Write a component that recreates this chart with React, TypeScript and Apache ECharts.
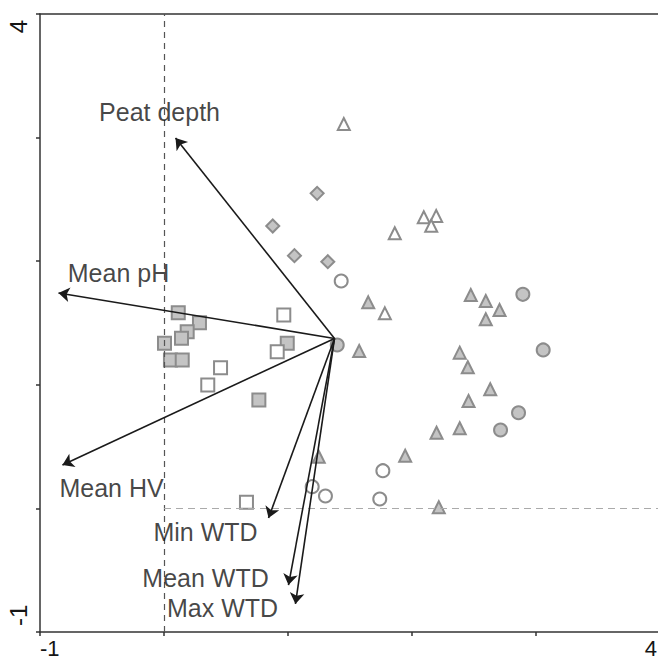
import React, { useEffect, useRef } from "react";
import * as echarts from "echarts";

// ---- data ----
const xTicks = [-1, 0, 1, 2, 3, 4];
const yTicks = [-1, 0, 1, 2, 3, 4];
const shownTickLabels = [-1, 4];

const arrowOrigin: [number, number] = [1.375, 1.375];
const vectorNames = ["Peat depth", "Mean pH", "Mean HV", "Min WTD", "Mean WTD", "Max WTD"];
const vectorEnds: [number, number][] = [
  [0.093, 2.997],
  [-0.851, 1.743],
  [-0.819, 0.351],
  [0.843, -0.078],
  [1.004, -0.62],
  [1.06, -0.773],
];
const vectorLabelPos: [number, number][] = [
  [-0.036, 3.207],
  [-0.367, 1.905],
  [-0.423, 0.165],
  [0.335, -0.191],
  [0.335, -0.563],
  [0.472, -0.806],
];

const filledSquares: [number, number][] = [
  [0.115, 1.583], [0.286, 1.502], [0.187, 1.43], [0.141, 1.376], [0.004, 1.336],
  [0.052, 1.201], [0.147, 1.201], [0.994, 1.336], [0.765, 0.877],
];
const openSquares: [number, number][] = [
  [0.966, 1.565], [0.913, 1.268], [0.456, 1.138], [0.353, 0.998], [0.665, 0.049],
];
const filledDiamonds: [number, number][] = [
  [1.235, 2.549], [0.877, 2.285], [1.052, 2.045], [1.321, 1.996],
];
const openTriangles: [number, number][] = [
  [1.45, 3.11], [2.095, 2.355], [2.195, 2.366], [2.155, 2.287], [1.861, 2.226], [1.781, 1.578],
];
const openCircles: [number, number][] = [
  [1.429, 1.84], [1.765, 0.305], [1.195, 0.176], [1.302, 0.1], [1.74, 0.076],
];
const filledCircles: [number, number][] = [
  [1.397, 1.322], [2.894, 1.732], [3.058, 1.282], [2.859, 0.774], [2.714, 0.634],
];
const filledTriangles: [number, number][] = [
  [1.647, 1.667], [1.574, 1.273], [2.474, 1.727], [2.595, 1.678], [2.706, 1.605],
  [2.595, 1.53], [2.385, 1.26], [2.45, 1.142], [2.631, 0.964], [2.456, 0.869],
  [2.385, 0.648], [2.198, 0.612], [1.248, 0.418], [1.945, 0.426], [2.216, 0.009],
];

const FONT = "'Liberation Sans', Arial, sans-serif";
const STROKE = "#8c8c8c";
const FILL = "#c4c4c4";
const TEXT = "#151515";

export default function App() {
  const ref = useRef<HTMLDivElement>(null);
  useEffect(() => {
    if (!ref.current) return;
    const chart = echarts.init(ref.current, undefined, { renderer: "svg" });

    const pointSeries = (data: [number, number][], symbol: string, filled: boolean, size: number) => ({
      type: "scatter",
      data,
      symbol,
      symbolSize: size,
      itemStyle: { color: filled ? FILL : "#ffffff", borderColor: STROKE, borderWidth: 2, opacity: 1 },
      z: 3,
    });

    const fmt = (v: number) => (shownTickLabels.includes(v) ? String(v) : "");

    chart.setOption({
      animation: false,
      backgroundColor: "#ffffff",
      grid: { left: 40, top: 14, width: 620, height: 618, outerBoundsMode: "none", containLabel: false },
      xAxis: [
        {
          type: "value",
          min: xTicks[0],
          max: xTicks[xTicks.length - 1],
          interval: 1,
          position: "bottom",
          splitLine: { show: false },
          axisLine: { show: true, onZero: false, lineStyle: { color: "#333", width: 1.5 } },
          axisTick: { show: true, length: 4, lineStyle: { color: "#333", width: 1.5 } },
          axisLabel: {
            formatter: fmt,
            color: TEXT,
            fontSize: 22,
            fontFamily: FONT,
            margin: 5,
            alignMinLabel: "left",
            alignMaxLabel: "right",
            padding: [0, 3, 0, 0],
          },
        },
        {
          type: "value",
          min: xTicks[0],
          max: xTicks[xTicks.length - 1],
          position: "top",
          splitLine: { show: false },
          axisLine: { show: true, onZero: false, lineStyle: { color: "#333", width: 1.5 } },
          axisTick: { show: false },
          axisLabel: { show: false },
        },
      ],
      yAxis: {
        type: "value",
        min: yTicks[0],
        max: yTicks[yTicks.length - 1],
        interval: 1,
        splitLine: { show: false },
        axisLine: { show: true, onZero: false, lineStyle: { color: "#333", width: 1.5 } },
        axisTick: { show: true, length: 4, lineStyle: { color: "#333", width: 1.5 } },
        axisLabel: {
          formatter: fmt,
          color: TEXT,
          fontSize: 24,
          fontFamily: FONT,
          rotate: 90,
          margin: 10,
          alignMinLabel: "left",
          alignMaxLabel: "right",
          padding: [0, 6, 0, 6],
        },
      },
      series: [
        {
          type: "scatter",
          data: [],
          silent: true,
          markLine: {
            silent: true,
            symbol: ["none", "none"],
            label: { show: false },
            data: [
              [
                { coord: [0, yTicks[0]], lineStyle: { color: "#555", type: [6, 5], width: 1.2 } },
                { coord: [0, yTicks[yTicks.length - 1]] },
              ],
              [
                { coord: [0, 0], lineStyle: { color: "#aaa", type: [7, 5], width: 1.2 } },
                { coord: [xTicks[xTicks.length - 1], 0] },
              ],
            ],
          },
        },
        pointSeries(filledSquares, "rect", true, 13),
        pointSeries(openSquares, "rect", false, 13),
        pointSeries(filledDiamonds, "diamond", true, 13),
        pointSeries(openTriangles, "triangle", false, 12),
        pointSeries(openCircles, "circle", false, 13),
        pointSeries(filledCircles, "circle", true, 13),
        pointSeries(filledTriangles, "triangle", true, 12),
        {
          type: "lines",
          coordinateSystem: "cartesian2d",
          symbol: ["none", "arrow"],
          symbolSize: [0, 11],
          lineStyle: { color: "#1a1a1a", width: 1.6, opacity: 1, curveness: 0 },
          data: vectorEnds.map((e) => ({ coords: [arrowOrigin, e] })),
          z: 5,
        },
        {
          type: "scatter",
          symbolSize: 0,
          data: vectorLabelPos.map((p, i) => ({ value: p, name: vectorNames[i] })),
          label: {
            show: true,
            position: "inside",
            formatter: (p: any) => p.name,
            color: TEXT,
            fontSize: 25,
            fontFamily: FONT,
          },
          z: 6,
        },
      ],
    });
    return () => chart.dispose();
  }, []);
  return (
    <div
      ref={ref}
      style={{ position: "fixed", left: 0, top: 0, width: 658, height: 661, background: "#fff" }}
    />
  );
}
